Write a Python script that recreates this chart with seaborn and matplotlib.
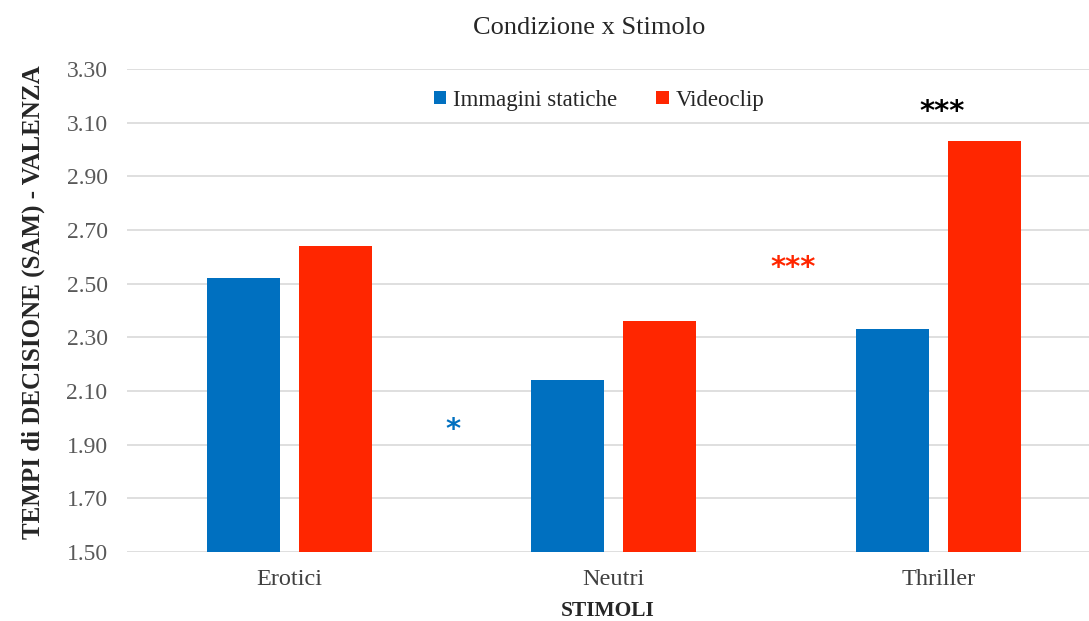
import matplotlib
matplotlib.use("Agg")
import matplotlib.pyplot as plt
import seaborn as sns
import pandas as pd

# Mean decision times (SAM - valence) per stimulus type and condition
categories = ["Erotici", "Neutri", "Thriller"]
immagini_statiche = [2.52, 2.14, 2.33]
videoclip = [2.64, 2.36, 3.03]
series_names = ["Immagini statiche", "Videoclip"]
y_ticks = [1.50, 1.70, 1.90, 2.10, 2.30, 2.50, 2.70, 2.90, 3.10, 3.30]

# Significance markers: (x position, y value, text, colour)
sig_marks = [
    (0.504, 1.955, "*", "#0070C0"),
    (1.552, 2.560, "***", "#FF2600"),
    (2.012, 3.140, "***", "#000000"),
]

df = pd.DataFrame({
    "Stimolo": categories * 2,
    "Valore": immagini_statiche + videoclip,
    "Condizione": [series_names[0]] * 3 + [series_names[1]] * 3,
})

sns.set_theme(style="white")
plt.rcParams["font.family"] = ["Liberation Serif", "DejaVu Serif"]

fig = plt.figure(figsize=(10.89, 6.21), dpi=100)
ax = fig.add_axes([127 / 1089, 1 - 552 / 621, 1 - 127 / 1089, (552 - 69) / 621])

palette = {"Immagini statiche": "#0070C0", "Videoclip": "#FF2600"}
sns.barplot(data=df, x="Stimolo", y="Valore", hue="Condizione",
            order=categories, hue_order=series_names, palette=palette,
            width=0.567, gap=0.207, saturation=1, ax=ax, zorder=3,
            edgecolor="none")

ax.set_ylim(1.5, 3.3)
ax.set_xlim(-0.5, 2.464)
ax.set_yticks(y_ticks)
ax.set_yticklabels([f"{v:.2f}" for v in y_ticks])
ax.yaxis.grid(True, color="#D9D9D9", linewidth=1.2, zorder=0)
ax.set_axisbelow(True)
for s in ax.spines.values():
    s.set_visible(False)
ax.tick_params(axis="y", length=0, pad=14, labelsize=17, labelcolor="#595959")
ax.tick_params(axis="x", length=0, pad=12, labelsize=17.5, labelcolor="#404040")

ax.set_xlabel("STIMOLI", fontsize=15.5, fontweight="bold", labelpad=8)
ax.set_ylabel("TEMPI di DECISIONE (SAM) - VALENZA", fontsize=18,
              fontweight="bold")
ax.yaxis.set_label_coords(-0.0852, 0.518)
fig.text(589 / 1089, 1 - 28 / 621, "Condizione x Stimolo", ha="center",
         va="center", fontsize=19)

for x, y, txt, col in sig_marks:
    ax.text(x, y, txt, ha="center", va="center", fontsize=21,
            fontweight="bold", color=col, family="DejaVu Sans")

leg = ax.legend(loc="upper center", bbox_to_anchor=((599 - 127) / 962, 1.0),
                ncol=2, frameon=False, fontsize=16.5, handlelength=0.55,
                handleheight=0.55, handletextpad=0.3, columnspacing=1.7,
                borderaxespad=0.5)

fig.savefig("out.png", dpi=100, facecolor="white")
